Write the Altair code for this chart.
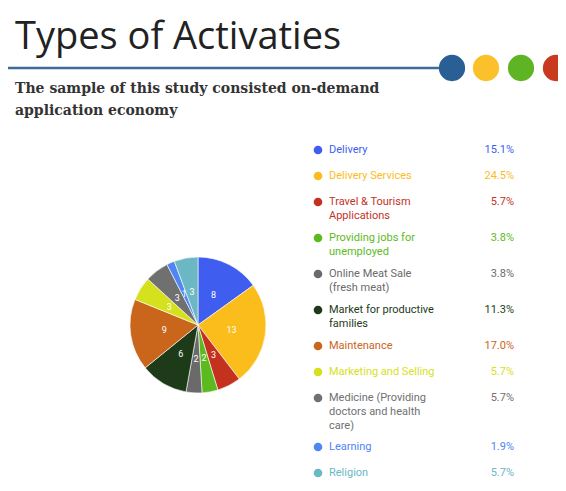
import altair as alt
import pandas as pd

# ---- data ----
categories = ["Delivery", "Delivery Services", "Travel & Tourism Applications",
              "Providing jobs for unemployed", "Online Meat Sale (fresh meat)",
              "Market for productive families", "Maintenance", "Marketing and Selling",
              "Medicine (Providing doctors and health care)", "Learning", "Religion"]
legend_lines = [["Delivery"], ["Delivery Services"], ["Travel & Tourism", "Applications"],
                ["Providing jobs for", "unemployed"], ["Online Meat Sale", "(fresh meat)"],
                ["Market for productive", "families"], ["Maintenance"], ["Marketing and Selling"],
                ["Medicine (Providing", "doctors and health", "care)"], ["Learning"], ["Religion"]]
counts = [8, 13, 3, 2, 2, 6, 9, 3, 3, 1, 3]
percent_labels = ["15.1%", "24.5%", "5.7%", "3.8%", "3.8%", "11.3%", "17.0%", "5.7%", "5.7%", "1.9%", "5.7%"]
colors = ["#3f5ef0", "#fbbd1c", "#c4321f", "#5cba1e", "#6a6a6a", "#1d3b18",
          "#c9661c", "#d6e11d", "#707070", "#4f86f2", "#6bb8c4"]
title_text = "Types of Activaties"
subtitle_lines = ["The sample of this study consisted on-demand", "application economy"]

# ---- tables ----
first_row = 142
row_y = []
y = first_row
for lines in legend_lines:
    row_y.append(y)
    y += 26 if len(lines) == 1 else 23 + 13 * (len(lines) - 1)

df = pd.DataFrame({
    "category": categories,
    "idx": list(range(len(categories))),
    "count": counts,
    "count_label": [str(c) for c in counts],
    "label": legend_lines,
    "pct": percent_labels,
    "row": row_y,
})

W, H = 550, 475
color = alt.Color("category:N", scale=alt.Scale(domain=categories, range=colors), legend=None)
yscale = alt.Scale(domain=[0, H], range=[0, H])

base = alt.Chart(df)

pie = base.mark_arc(outerRadius=68, stroke="white", strokeWidth=0.6).encode(
    theta=alt.Theta("count:Q", stack=True),
    color=color,
    order=alt.Order("idx:Q"),
    x=alt.value(190), y=alt.value(317),
)
pie_labels = base.mark_text(radius=34, fontSize=9, fill="white", font="Roboto").encode(
    theta=alt.Theta("count:Q", stack=True),
    order=alt.Order("idx:Q"),
    text="count_label:N",
    x=alt.value(190), y=alt.value(317),
)

dots = base.mark_circle(size=75, opacity=1).encode(
    x=alt.value(310), y=alt.Y("row:Q", scale=yscale, axis=None), color=color)
labels = base.mark_text(align="left", baseline="top", dy=-6, fontSize=11, lineHeight=14,
                        font="Roboto").encode(
    x=alt.value(321), y=alt.Y("row:Q", scale=yscale, axis=None), text="label", color=color)
pcts = base.mark_text(align="right", baseline="top", dy=-6, fontSize=11, font="Roboto").encode(
    x=alt.value(506), y=alt.Y("row:Q", scale=yscale, axis=None), text="pct:N", color=color)

tdf = pd.DataFrame({"t": [title_text]})
title = alt.Chart(tdf).mark_text(align="left", baseline="alphabetic", fontSize=38,
                                 font="Open Sans", color="#222222").encode(
    x=alt.value(7), y=alt.value(41), text="t:N")

sdf = pd.DataFrame({"t": [subtitle_lines]})
subtitle = alt.Chart(sdf).mark_text(align="left", baseline="alphabetic", fontSize=14,
                                    lineHeight=22, font="DejaVu Serif", fontWeight="bold",
                                    color="#333333").encode(
    x=alt.value(7), y=alt.value(85), text="t")

rule = alt.Chart(tdf).mark_rule(color="#3b6d99", strokeWidth=2.5).encode(
    x=alt.value(0), x2=alt.value(432), y=alt.value(60))

deco = []
for cx, cc in zip([444, 478, 513, 548], ["#2a5f95", "#fbc12b", "#5eb423", "#c8391f"]):
    deco.append(alt.Chart(tdf).mark_circle(size=690, opacity=1, color=cc).encode(
        x=alt.value(cx), y=alt.value(60)))

chart = alt.layer(title, rule, *deco, subtitle, pie, pie_labels, dots, labels, pcts).properties(
    width=W, height=H, padding=0, autosize="none"
).configure_view(stroke=None)

chart.save("out.html", embed_options={"renderer": "svg", "actions": False})
